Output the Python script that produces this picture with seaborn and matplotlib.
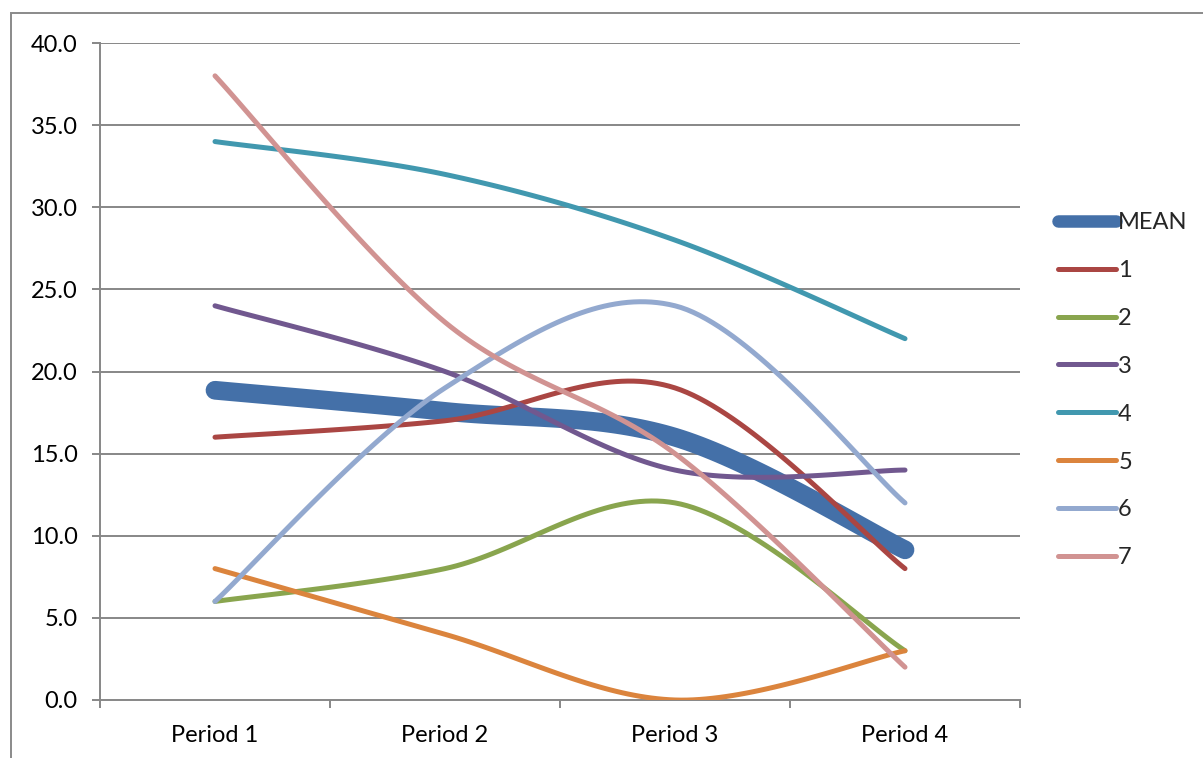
import numpy as np
import pandas as pd
import matplotlib
matplotlib.use("Agg")
import matplotlib.pyplot as plt
from matplotlib.lines import Line2D
from matplotlib.patches import Rectangle
import seaborn as sns

# ---- data -------------------------------------------------------------
periods = ["Period 1", "Period 2", "Period 3", "Period 4"]
series_names = ["1", "2", "3", "4", "5", "6", "7"]
s1 = [16, 17, 19, 8]
s2 = [6, 8, 12, 3]
s3 = [24, 20, 14, 14]
s4 = [34, 32, 28, 22]
s5 = [8, 4, 0, 3]
s6 = [6, 19, 24, 12]
s7 = [38, 23, 15, 2]
y_ticks = [0, 5, 10, 15, 20, 25, 30, 35, 40]

all_series = [s1, s2, s3, s4, s5, s6, s7]
mean_vals = list(np.mean(np.array(all_series, dtype=float), axis=0))

colors = ["#AA4643", "#89A54E", "#71588F", "#4198AF", "#DB843D", "#93A9CF", "#D19392"]
mean_color = "#4470A8"

sns.set_theme(style="white")
plt.rcParams["font.family"] = ["Lato", "DejaVu Sans"]
FS = 17


def smooth(values, n=40):
    """Bezier smoothing through every point (Catmull-Rom style control points)."""
    x = np.arange(len(values), dtype=float)
    y = np.asarray(values, dtype=float)
    pts = np.column_stack([x, y])
    ext = np.vstack([pts[0], pts, pts[-1]])
    out = []
    t = np.linspace(0, 1, n)[:, None]
    for i in range(len(pts) - 1):
        p0, p3 = ext[i + 1], ext[i + 2]
        c1 = p0 + (ext[i + 2] - ext[i]) / 6.0
        c2 = p3 - (ext[i + 3] - ext[i + 1]) / 6.0
        seg = ((1 - t) ** 3) * p0 + 3 * ((1 - t) ** 2) * t * c1 + 3 * (1 - t) * t ** 2 * c2 + t ** 3 * p3
        out.append(seg if i == 0 else seg[1:])
    out = np.vstack(out)
    return out[:, 0], out[:, 1]


fig = plt.figure(figsize=(12.03, 7.58), dpi=100)
ax = fig.add_axes([100 / 1203, 1 - 700 / 758, 920 / 1203, 657 / 758])

grid_c = "#878787"
for yv in y_ticks[1:]:
    ax.axhline(yv, color=grid_c, lw=1.4, zorder=0)

mx, my = smooth(mean_vals)
sns.lineplot(x=mx, y=my, ax=ax, color=mean_color, lw=13.5, sort=False,
             solid_capstyle="round", zorder=2, legend=False)
for k, (vals, c) in enumerate(zip(all_series, colors)):
    sx, sy = smooth(vals)
    sns.lineplot(x=sx, y=sy, ax=ax, color=c, lw=3.6, sort=False,
                 solid_capstyle="round", zorder=3 + k, legend=False)

ax.set_xlim(-0.5, 3.5)
ax.set_ylim(0, 40)
ax.set_yticks(y_ticks)
ax.set_yticklabels([f"{v:.1f}" for v in y_ticks])
ax.set_xticks(range(len(periods)))
ax.set_xticklabels(periods)
ax.set_xticks(np.arange(-0.5, 4.0, 1.0), minor=True)
ax.tick_params(axis="x", which="major", length=0, pad=18, labelsize=FS, colors="black")
ax.tick_params(axis="x", which="minor", length=6, width=1.4, color=grid_c, direction="out", bottom=True)
ax.tick_params(axis="y", which="major", length=6, width=1.4, color=grid_c, direction="out",
               left=True, pad=10, labelsize=FS, labelcolor="black")
ax.set_xlabel("")
ax.set_ylabel("")

for side in ["top", "right"]:
    ax.spines[side].set_visible(False)
for side in ["left", "bottom"]:
    ax.spines[side].set_color(grid_c)
    ax.spines[side].set_linewidth(1.4)

# legend
handles = [Line2D([], [], color=mean_color, lw=9, solid_capstyle="round")]
handles += [Line2D([], [], color=c, lw=3.6, solid_capstyle="round") for c in colors]
labels = ["MEAN"] + series_names
fig.legend(handles, labels, loc="upper left",
           bbox_to_anchor=(1058 / 1203, 1 - 212 / 758), frameon=False,
           fontsize=FS, handlelength=2.45, handletextpad=0.1, labelspacing=1.14,
           borderpad=0, borderaxespad=0)

# chart frame
fig.add_artist(Rectangle((11 / 1203, -0.1), 1.2, 1.1 - 13 / 758,
                         transform=fig.transFigure, fill=False,
                         edgecolor="#8a8a8a", lw=1.4))

fig.savefig("out.png", dpi=100)
